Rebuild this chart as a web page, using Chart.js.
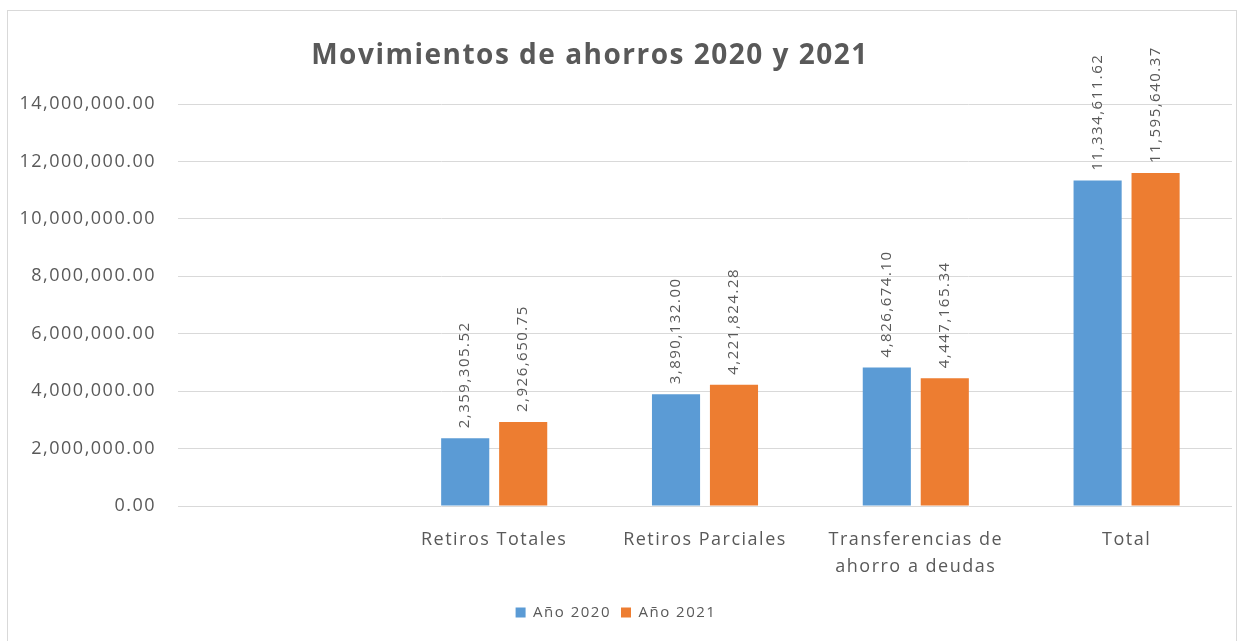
<!DOCTYPE html>
<html>
<head>
<meta charset="utf-8">
<script src="https://cdn.jsdelivr.net/npm/chart.js@4/dist/chart.umd.min.js"></script>
<style>
  html, body { margin: 0; padding: 0; background: #fff; }
  #wrap { width: 1247px; height: 641px; position: relative; }
</style>
</head>
<body>
<div id="wrap"><canvas id="myChart" width="1247" height="641"></canvas></div>
<script>
// data
const categories = ['', 'Retiros Totales', 'Retiros Parciales', ['Transferencias de', 'ahorro a deudas'], 'Total'];
const año2020 = [null, 2359305.52, 3890132.00, 4826674.10, 11334611.62];
const año2021 = [null, 2926650.75, 4221824.28, 4447165.34, 11595640.37];
const seriesNames = ['Año 2020', 'Año 2021'];
const chartTitle = 'Movimientos de ahorros 2020 y 2021';

const grey = '#595959';
const font = 'Open Sans';
const spacing = '1.5px';

function fmt(v) {
  const parts = v.toFixed(2).split('.');
  parts[0] = parts[0].replace(/\B(?=(\d{3})+(?!\d))/g, ',');
  return parts.join('.');
}

// border + title + rotated value labels
const extras = {
  id: 'extras',
  beforeLayout(chart) {
    chart.ctx.letterSpacing = spacing;
  },
  beforeDraw(chart) {
    const ctx = chart.ctx;
    ctx.letterSpacing = spacing;
    ctx.save();
    ctx.strokeStyle = '#d9d9d9';
    ctx.lineWidth = 1;
    ctx.strokeRect(7.5, 10.5, 1229, 640);
    ctx.restore();
  },
  afterDatasetsDraw(chart) {
    const ctx = chart.ctx;
    ctx.save();
    ctx.fillStyle = grey;
    ctx.font = 'bold 28px "' + font + '"';
    ctx.textAlign = 'center';
    ctx.textBaseline = 'middle';
    ctx.fillText(chartTitle, 590, 56);

    ctx.font = '15px "' + font + '"';
    chart.data.datasets.forEach((ds, i) => {
      const meta = chart.getDatasetMeta(i);
      meta.data.forEach((bar, j) => {
        const v = ds.data[j];
        if (v == null) return;
        ctx.save();
        ctx.translate(bar.x, bar.y - 10);
        ctx.rotate(-Math.PI / 2);
        ctx.textAlign = 'left';
        ctx.textBaseline = 'middle';
        ctx.fillText(fmt(v), 0, 0);
        ctx.restore();
      });
    });
    ctx.restore();
  }
};

const config = {
  type: 'bar',
  data: {
    labels: categories,
    datasets: [
      { label: seriesNames[0], data: año2020, backgroundColor: '#5B9BD5' },
      { label: seriesNames[1], data: año2021, backgroundColor: '#ED7D31' },
    ],
  },
  options: {
    responsive: false,
    animation: false,
    categoryPercentage: 0.55,
    barPercentage: 0.83,
    layout: { padding: { top: 104, bottom: 11, left: 0, right: 15 } },
    plugins: {
      title: { display: false },
      tooltip: { enabled: false },
      legend: {
        position: 'bottom',
        labels: {
          boxWidth: 10, boxHeight: 10, padding: 10,
          color: grey,
          font: { family: font, size: 15 },
        },
      },
    },
    scales: {
      x: {
        grid: { display: false },
        border: { display: false },
        ticks: { color: grey, font: { family: font, size: 18, lineHeight: 1.5 }, padding: 12, maxRotation: 0 },
        afterFit(scale) { scale.height = 89; },
      },
      y: {
        min: 0,
        max: 14000000,
        grid: { color: '#d9d9d9', drawTicks: false },
        border: { display: false },
        ticks: {
          stepSize: 2000000,
          color: grey,
          font: { family: font, size: 18 },
          padding: 22,
          callback: (v) => fmt(v),
        },
        afterFit(scale) { scale.width = 178; },
      },
    },
  },
  plugins: [extras],
};

const myChart = new Chart('myChart', config);
</script>
</body>
</html>
